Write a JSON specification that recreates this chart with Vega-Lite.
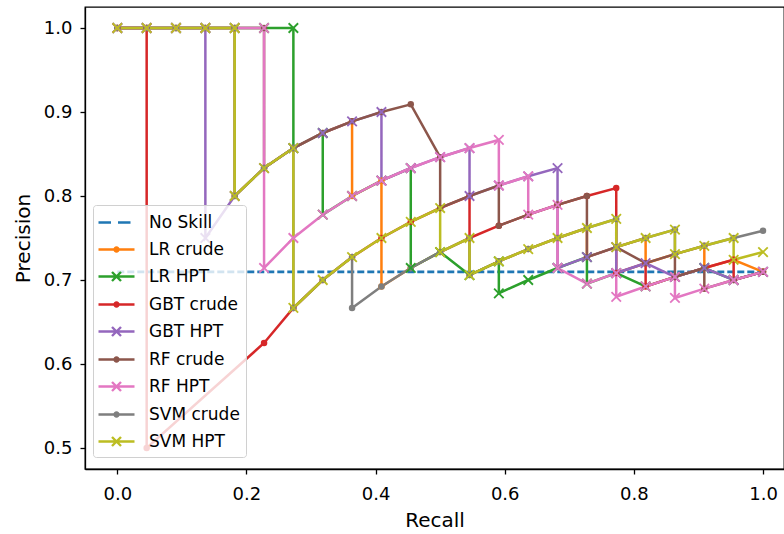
{
  "$schema": "https://vega.github.io/schema/vega-lite/v6.json",
  "width": 699,
  "height": 462,
  "autosize": {"type": "none"},
  "padding": {"left": 85, "top": 7, "right": 0, "bottom": 65},
  "background": "white",
  "config": {
    "font": "DejaVu Sans",
    "view": {"stroke": "#000000", "strokeWidth": 1.3},
    "axis": {
      "grid": false,
      "domainColor": "#000000",
      "domainWidth": 1.3,
      "tickColor": "#000000",
      "tickSize": 5,
      "tickWidth": 1.3,
      "labelFont": "DejaVu Sans",
      "labelFontSize": 18,
      "labelColor": "#000000",
      "titleFont": "DejaVu Sans",
      "titleFontSize": 20,
      "titleFontWeight": "normal",
      "titleColor": "#000000"
    },
    "legend": {
      "orient": "none",
      "legendX": 8,
      "legendY": 198,
      "padding": 6,
      "rowPadding": 7,
      "labelFont": "DejaVu Sans",
      "labelFontSize": 17,
      "labelColor": "#000000",
      "labelOffset": 21,
      "symbolOffset": 6,
      "symbolSize": 400,
      "symbolStrokeWidth": 2,
      "fillColor": "rgba(255,255,255,0.8)",
      "strokeColor": "#d0d0d0",
      "cornerRadius": 3
    }
  },
  "data": {
    "values": [
      {"s": "No Skill", "i": 0, "r": 0, "p": 0.7097},
      {"s": "No Skill", "i": 1, "r": 1, "p": 0.7097},

      {"s": "LR crude", "i": 0, "r": 0, "p": 1},
      {"s": "LR crude", "i": 1, "r": 0.0455, "p": 1},
      {"s": "LR crude", "i": 2, "r": 0.0909, "p": 1},
      {"s": "LR crude", "i": 3, "r": 0.1364, "p": 1},
      {"s": "LR crude", "i": 4, "r": 0.1818, "p": 1},
      {"s": "LR crude", "i": 5, "r": 0.1818, "p": 0.8},
      {"s": "LR crude", "i": 6, "r": 0.2273, "p": 0.8333},
      {"s": "LR crude", "i": 7, "r": 0.2727, "p": 0.8571},
      {"s": "LR crude", "i": 8, "r": 0.3182, "p": 0.875},
      {"s": "LR crude", "i": 9, "r": 0.3636, "p": 0.8889},
      {"s": "LR crude", "i": 10, "r": 0.3636, "p": 0.8},
      {"s": "LR crude", "i": 11, "r": 0.4091, "p": 0.8182},
      {"s": "LR crude", "i": 12, "r": 0.4091, "p": 0.6923},
      {"s": "LR crude", "i": 13, "r": 0.4545, "p": 0.7143},
      {"s": "LR crude", "i": 14, "r": 0.5, "p": 0.7333},
      {"s": "LR crude", "i": 15, "r": 0.5455, "p": 0.75},
      {"s": "LR crude", "i": 16, "r": 0.5455, "p": 0.7059},
      {"s": "LR crude", "i": 17, "r": 0.5909, "p": 0.7222},
      {"s": "LR crude", "i": 18, "r": 0.6364, "p": 0.7368},
      {"s": "LR crude", "i": 19, "r": 0.6818, "p": 0.75},
      {"s": "LR crude", "i": 20, "r": 0.7273, "p": 0.7619},
      {"s": "LR crude", "i": 21, "r": 0.7273, "p": 0.7273},
      {"s": "LR crude", "i": 22, "r": 0.7727, "p": 0.7391},
      {"s": "LR crude", "i": 23, "r": 0.8182, "p": 0.75},
      {"s": "LR crude", "i": 24, "r": 0.8182, "p": 0.72},
      {"s": "LR crude", "i": 25, "r": 0.8636, "p": 0.7308},
      {"s": "LR crude", "i": 26, "r": 0.9091, "p": 0.7407},
      {"s": "LR crude", "i": 27, "r": 0.9091, "p": 0.7143},
      {"s": "LR crude", "i": 28, "r": 0.9545, "p": 0.7241},
      {"s": "LR crude", "i": 29, "r": 1, "p": 0.7097},

      {"s": "LR HPT", "i": 0, "r": 0, "p": 1},
      {"s": "LR HPT", "i": 1, "r": 0.0455, "p": 1},
      {"s": "LR HPT", "i": 2, "r": 0.0909, "p": 1},
      {"s": "LR HPT", "i": 3, "r": 0.1364, "p": 1},
      {"s": "LR HPT", "i": 4, "r": 0.1818, "p": 1},
      {"s": "LR HPT", "i": 5, "r": 0.2273, "p": 1},
      {"s": "LR HPT", "i": 6, "r": 0.2727, "p": 1},
      {"s": "LR HPT", "i": 7, "r": 0.2727, "p": 0.8571},
      {"s": "LR HPT", "i": 8, "r": 0.3182, "p": 0.875},
      {"s": "LR HPT", "i": 9, "r": 0.3182, "p": 0.7778},
      {"s": "LR HPT", "i": 10, "r": 0.3636, "p": 0.8},
      {"s": "LR HPT", "i": 11, "r": 0.4091, "p": 0.8182},
      {"s": "LR HPT", "i": 12, "r": 0.4545, "p": 0.8333},
      {"s": "LR HPT", "i": 13, "r": 0.4545, "p": 0.7143},
      {"s": "LR HPT", "i": 14, "r": 0.5, "p": 0.7333},
      {"s": "LR HPT", "i": 15, "r": 0.5455, "p": 0.7059},
      {"s": "LR HPT", "i": 16, "r": 0.5909, "p": 0.7222},
      {"s": "LR HPT", "i": 17, "r": 0.5909, "p": 0.6842},
      {"s": "LR HPT", "i": 18, "r": 0.6364, "p": 0.7},
      {"s": "LR HPT", "i": 19, "r": 0.6818, "p": 0.7143},
      {"s": "LR HPT", "i": 20, "r": 0.7273, "p": 0.7273},
      {"s": "LR HPT", "i": 21, "r": 0.7273, "p": 0.6957},
      {"s": "LR HPT", "i": 22, "r": 0.7727, "p": 0.7083},
      {"s": "LR HPT", "i": 23, "r": 0.8182, "p": 0.6923},
      {"s": "LR HPT", "i": 24, "r": 0.8636, "p": 0.7037},
      {"s": "LR HPT", "i": 25, "r": 0.9091, "p": 0.7143},
      {"s": "LR HPT", "i": 26, "r": 0.9545, "p": 0.7},
      {"s": "LR HPT", "i": 27, "r": 1, "p": 0.7097},

      {"s": "GBT crude", "i": 0, "r": 0, "p": 1},
      {"s": "GBT crude", "i": 1, "r": 0.0455, "p": 1},
      {"s": "GBT crude", "i": 2, "r": 0.0455, "p": 0.5},
      {"s": "GBT crude", "i": 3, "r": 0.2273, "p": 0.625},
      {"s": "GBT crude", "i": 4, "r": 0.2727, "p": 0.6667},
      {"s": "GBT crude", "i": 5, "r": 0.3182, "p": 0.7},
      {"s": "GBT crude", "i": 6, "r": 0.3636, "p": 0.7273},
      {"s": "GBT crude", "i": 7, "r": 0.4091, "p": 0.75},
      {"s": "GBT crude", "i": 8, "r": 0.4545, "p": 0.7692},
      {"s": "GBT crude", "i": 9, "r": 0.5, "p": 0.7857},
      {"s": "GBT crude", "i": 10, "r": 0.5455, "p": 0.8},
      {"s": "GBT crude", "i": 11, "r": 0.5455, "p": 0.75},
      {"s": "GBT crude", "i": 12, "r": 0.5909, "p": 0.7647},
      {"s": "GBT crude", "i": 13, "r": 0.6364, "p": 0.7778},
      {"s": "GBT crude", "i": 14, "r": 0.6818, "p": 0.7895},
      {"s": "GBT crude", "i": 15, "r": 0.7273, "p": 0.8},
      {"s": "GBT crude", "i": 16, "r": 0.7727, "p": 0.8095},
      {"s": "GBT crude", "i": 17, "r": 0.7727, "p": 0.7083},
      {"s": "GBT crude", "i": 18, "r": 0.8182, "p": 0.72},
      {"s": "GBT crude", "i": 19, "r": 0.8182, "p": 0.6923},
      {"s": "GBT crude", "i": 20, "r": 0.8636, "p": 0.7037},
      {"s": "GBT crude", "i": 21, "r": 0.9091, "p": 0.7143},
      {"s": "GBT crude", "i": 22, "r": 0.9545, "p": 0.7241},
      {"s": "GBT crude", "i": 23, "r": 0.9545, "p": 0.7},
      {"s": "GBT crude", "i": 24, "r": 1, "p": 0.7097},

      {"s": "GBT HPT", "i": 0, "r": 0, "p": 1},
      {"s": "GBT HPT", "i": 1, "r": 0.0455, "p": 1},
      {"s": "GBT HPT", "i": 2, "r": 0.0909, "p": 1},
      {"s": "GBT HPT", "i": 3, "r": 0.1364, "p": 1},
      {"s": "GBT HPT", "i": 4, "r": 0.1364, "p": 0.75},
      {"s": "GBT HPT", "i": 5, "r": 0.1818, "p": 0.8},
      {"s": "GBT HPT", "i": 6, "r": 0.2273, "p": 0.8333},
      {"s": "GBT HPT", "i": 7, "r": 0.2727, "p": 0.8571},
      {"s": "GBT HPT", "i": 8, "r": 0.3182, "p": 0.875},
      {"s": "GBT HPT", "i": 9, "r": 0.3636, "p": 0.8889},
      {"s": "GBT HPT", "i": 10, "r": 0.4091, "p": 0.9},
      {"s": "GBT HPT", "i": 11, "r": 0.4091, "p": 0.8182},
      {"s": "GBT HPT", "i": 12, "r": 0.4545, "p": 0.8333},
      {"s": "GBT HPT", "i": 13, "r": 0.5, "p": 0.8462},
      {"s": "GBT HPT", "i": 14, "r": 0.5455, "p": 0.8571},
      {"s": "GBT HPT", "i": 15, "r": 0.5455, "p": 0.8},
      {"s": "GBT HPT", "i": 16, "r": 0.5909, "p": 0.8125},
      {"s": "GBT HPT", "i": 17, "r": 0.6364, "p": 0.8235},
      {"s": "GBT HPT", "i": 18, "r": 0.6818, "p": 0.8333},
      {"s": "GBT HPT", "i": 19, "r": 0.6818, "p": 0.7143},
      {"s": "GBT HPT", "i": 20, "r": 0.7273, "p": 0.7273},
      {"s": "GBT HPT", "i": 21, "r": 0.7727, "p": 0.7391},
      {"s": "GBT HPT", "i": 22, "r": 0.7727, "p": 0.7083},
      {"s": "GBT HPT", "i": 23, "r": 0.8182, "p": 0.72},
      {"s": "GBT HPT", "i": 24, "r": 0.8636, "p": 0.7037},
      {"s": "GBT HPT", "i": 25, "r": 0.9091, "p": 0.7143},
      {"s": "GBT HPT", "i": 26, "r": 0.9545, "p": 0.7},
      {"s": "GBT HPT", "i": 27, "r": 1, "p": 0.7097},

      {"s": "RF crude", "i": 0, "r": 0, "p": 1},
      {"s": "RF crude", "i": 1, "r": 0.0455, "p": 1},
      {"s": "RF crude", "i": 2, "r": 0.0909, "p": 1},
      {"s": "RF crude", "i": 3, "r": 0.1364, "p": 1},
      {"s": "RF crude", "i": 4, "r": 0.1818, "p": 1},
      {"s": "RF crude", "i": 5, "r": 0.2273, "p": 1},
      {"s": "RF crude", "i": 6, "r": 0.2273, "p": 0.8333},
      {"s": "RF crude", "i": 7, "r": 0.2727, "p": 0.8571},
      {"s": "RF crude", "i": 8, "r": 0.3182, "p": 0.875},
      {"s": "RF crude", "i": 9, "r": 0.3636, "p": 0.8889},
      {"s": "RF crude", "i": 10, "r": 0.4091, "p": 0.9},
      {"s": "RF crude", "i": 11, "r": 0.4545, "p": 0.9091},
      {"s": "RF crude", "i": 12, "r": 0.5, "p": 0.8462},
      {"s": "RF crude", "i": 13, "r": 0.5, "p": 0.7857},
      {"s": "RF crude", "i": 14, "r": 0.5455, "p": 0.8},
      {"s": "RF crude", "i": 15, "r": 0.5909, "p": 0.8125},
      {"s": "RF crude", "i": 16, "r": 0.5909, "p": 0.7647},
      {"s": "RF crude", "i": 17, "r": 0.6364, "p": 0.7778},
      {"s": "RF crude", "i": 18, "r": 0.6818, "p": 0.7895},
      {"s": "RF crude", "i": 19, "r": 0.7273, "p": 0.8},
      {"s": "RF crude", "i": 20, "r": 0.7273, "p": 0.7273},
      {"s": "RF crude", "i": 21, "r": 0.7727, "p": 0.7391},
      {"s": "RF crude", "i": 22, "r": 0.8182, "p": 0.72},
      {"s": "RF crude", "i": 23, "r": 0.8636, "p": 0.7308},
      {"s": "RF crude", "i": 24, "r": 0.8636, "p": 0.7037},
      {"s": "RF crude", "i": 25, "r": 0.9091, "p": 0.7143},
      {"s": "RF crude", "i": 26, "r": 0.9091, "p": 0.6897},
      {"s": "RF crude", "i": 27, "r": 0.9545, "p": 0.7},
      {"s": "RF crude", "i": 28, "r": 1, "p": 0.7097},

      {"s": "RF HPT", "i": 0, "r": 0, "p": 1},
      {"s": "RF HPT", "i": 1, "r": 0.0455, "p": 1},
      {"s": "RF HPT", "i": 2, "r": 0.0909, "p": 1},
      {"s": "RF HPT", "i": 3, "r": 0.1364, "p": 1},
      {"s": "RF HPT", "i": 4, "r": 0.1818, "p": 1},
      {"s": "RF HPT", "i": 5, "r": 0.2273, "p": 1},
      {"s": "RF HPT", "i": 6, "r": 0.2273, "p": 0.7143},
      {"s": "RF HPT", "i": 7, "r": 0.2727, "p": 0.75},
      {"s": "RF HPT", "i": 8, "r": 0.3182, "p": 0.7778},
      {"s": "RF HPT", "i": 9, "r": 0.3636, "p": 0.8},
      {"s": "RF HPT", "i": 10, "r": 0.4091, "p": 0.8182},
      {"s": "RF HPT", "i": 11, "r": 0.4545, "p": 0.8333},
      {"s": "RF HPT", "i": 12, "r": 0.5, "p": 0.8462},
      {"s": "RF HPT", "i": 13, "r": 0.5455, "p": 0.8571},
      {"s": "RF HPT", "i": 14, "r": 0.5909, "p": 0.8667},
      {"s": "RF HPT", "i": 15, "r": 0.5909, "p": 0.8125},
      {"s": "RF HPT", "i": 16, "r": 0.6364, "p": 0.8235},
      {"s": "RF HPT", "i": 17, "r": 0.6364, "p": 0.7778},
      {"s": "RF HPT", "i": 18, "r": 0.6818, "p": 0.7895},
      {"s": "RF HPT", "i": 19, "r": 0.6818, "p": 0.7143},
      {"s": "RF HPT", "i": 20, "r": 0.7273, "p": 0.6957},
      {"s": "RF HPT", "i": 21, "r": 0.7727, "p": 0.7083},
      {"s": "RF HPT", "i": 22, "r": 0.7727, "p": 0.68},
      {"s": "RF HPT", "i": 23, "r": 0.8182, "p": 0.6923},
      {"s": "RF HPT", "i": 24, "r": 0.8636, "p": 0.7037},
      {"s": "RF HPT", "i": 25, "r": 0.8636, "p": 0.6786},
      {"s": "RF HPT", "i": 26, "r": 0.9091, "p": 0.6897},
      {"s": "RF HPT", "i": 27, "r": 0.9545, "p": 0.7},
      {"s": "RF HPT", "i": 28, "r": 1, "p": 0.7097},

      {"s": "SVM crude", "i": 0, "r": 0, "p": 1},
      {"s": "SVM crude", "i": 1, "r": 0.0455, "p": 1},
      {"s": "SVM crude", "i": 2, "r": 0.0909, "p": 1},
      {"s": "SVM crude", "i": 3, "r": 0.1364, "p": 1},
      {"s": "SVM crude", "i": 4, "r": 0.1818, "p": 1},
      {"s": "SVM crude", "i": 5, "r": 0.1818, "p": 0.8},
      {"s": "SVM crude", "i": 6, "r": 0.2273, "p": 0.8333},
      {"s": "SVM crude", "i": 7, "r": 0.2727, "p": 0.8571},
      {"s": "SVM crude", "i": 8, "r": 0.2727, "p": 0.6667},
      {"s": "SVM crude", "i": 9, "r": 0.3182, "p": 0.7},
      {"s": "SVM crude", "i": 10, "r": 0.3636, "p": 0.7273},
      {"s": "SVM crude", "i": 11, "r": 0.3636, "p": 0.6667},
      {"s": "SVM crude", "i": 12, "r": 0.4091, "p": 0.6923},
      {"s": "SVM crude", "i": 13, "r": 0.4545, "p": 0.7143},
      {"s": "SVM crude", "i": 14, "r": 0.5, "p": 0.7333},
      {"s": "SVM crude", "i": 15, "r": 0.5455, "p": 0.75},
      {"s": "SVM crude", "i": 16, "r": 0.5455, "p": 0.7059},
      {"s": "SVM crude", "i": 17, "r": 0.5909, "p": 0.7222},
      {"s": "SVM crude", "i": 18, "r": 0.6364, "p": 0.7368},
      {"s": "SVM crude", "i": 19, "r": 0.6818, "p": 0.75},
      {"s": "SVM crude", "i": 20, "r": 0.7273, "p": 0.7619},
      {"s": "SVM crude", "i": 21, "r": 0.7727, "p": 0.7727},
      {"s": "SVM crude", "i": 22, "r": 0.7727, "p": 0.7391},
      {"s": "SVM crude", "i": 23, "r": 0.8182, "p": 0.75},
      {"s": "SVM crude", "i": 24, "r": 0.8636, "p": 0.76},
      {"s": "SVM crude", "i": 25, "r": 0.8636, "p": 0.7308},
      {"s": "SVM crude", "i": 26, "r": 0.9091, "p": 0.7407},
      {"s": "SVM crude", "i": 27, "r": 0.9545, "p": 0.75},
      {"s": "SVM crude", "i": 28, "r": 1, "p": 0.7586},

      {"s": "SVM HPT", "i": 0, "r": 0, "p": 1},
      {"s": "SVM HPT", "i": 1, "r": 0.0455, "p": 1},
      {"s": "SVM HPT", "i": 2, "r": 0.0909, "p": 1},
      {"s": "SVM HPT", "i": 3, "r": 0.1364, "p": 1},
      {"s": "SVM HPT", "i": 4, "r": 0.1818, "p": 1},
      {"s": "SVM HPT", "i": 5, "r": 0.1818, "p": 0.8},
      {"s": "SVM HPT", "i": 6, "r": 0.2273, "p": 0.8333},
      {"s": "SVM HPT", "i": 7, "r": 0.2727, "p": 0.8571},
      {"s": "SVM HPT", "i": 8, "r": 0.2727, "p": 0.6667},
      {"s": "SVM HPT", "i": 9, "r": 0.3182, "p": 0.7},
      {"s": "SVM HPT", "i": 10, "r": 0.3636, "p": 0.7273},
      {"s": "SVM HPT", "i": 11, "r": 0.4091, "p": 0.75},
      {"s": "SVM HPT", "i": 12, "r": 0.4545, "p": 0.7692},
      {"s": "SVM HPT", "i": 13, "r": 0.5, "p": 0.7857},
      {"s": "SVM HPT", "i": 14, "r": 0.5, "p": 0.7333},
      {"s": "SVM HPT", "i": 15, "r": 0.5455, "p": 0.75},
      {"s": "SVM HPT", "i": 16, "r": 0.5455, "p": 0.7059},
      {"s": "SVM HPT", "i": 17, "r": 0.5909, "p": 0.7222},
      {"s": "SVM HPT", "i": 18, "r": 0.6364, "p": 0.7368},
      {"s": "SVM HPT", "i": 19, "r": 0.6818, "p": 0.75},
      {"s": "SVM HPT", "i": 20, "r": 0.7273, "p": 0.7619},
      {"s": "SVM HPT", "i": 21, "r": 0.7727, "p": 0.7727},
      {"s": "SVM HPT", "i": 22, "r": 0.7727, "p": 0.7391},
      {"s": "SVM HPT", "i": 23, "r": 0.8182, "p": 0.75},
      {"s": "SVM HPT", "i": 24, "r": 0.8636, "p": 0.76},
      {"s": "SVM HPT", "i": 25, "r": 0.8636, "p": 0.7308},
      {"s": "SVM HPT", "i": 26, "r": 0.9091, "p": 0.7407},
      {"s": "SVM HPT", "i": 27, "r": 0.9545, "p": 0.75},
      {"s": "SVM HPT", "i": 28, "r": 0.9545, "p": 0.7241},
      {"s": "SVM HPT", "i": 29, "r": 1, "p": 0.7333}
    ]
  },
  "encoding": {
    "x": {
      "field": "r",
      "type": "quantitative",
      "scale": {"domain": [-0.05, 1.0325], "nice": false, "zero": false},
      "axis": {"values": [0, 0.2, 0.4, 0.6, 0.8, 1.0], "format": ".1f", "title": "Recall", "labelPadding": 11, "titlePadding": 7}
    },
    "y": {
      "field": "p",
      "type": "quantitative",
      "scale": {"domain": [0.475, 1.025], "nice": false, "zero": false},
      "axis": {"values": [0.5, 0.6, 0.7, 0.8, 0.9, 1.0], "format": ".1f", "title": "Precision", "labelPadding": 8, "titlePadding": 10}
    }
  },
  "layer": [
    {
      "transform": [{"filter": "datum.s == 'No Skill'"}],
      "mark": {"type": "line", "strokeDash": [7, 3], "strokeWidth": 2.6},
      "encoding": {
        "color": {"field": "s", "type": "nominal"},
        "order": {"field": "i", "type": "quantitative"}
      }
    },
    {
      "transform": [{"filter": "datum.s != 'No Skill'"}],
      "mark": {"type": "line", "strokeWidth": 2.5},
      "encoding": {
        "color": {
          "field": "s",
          "type": "nominal",
          "scale": {
            "domain": ["No Skill", "LR crude", "LR HPT", "GBT crude", "GBT HPT", "RF crude", "RF HPT", "SVM crude", "SVM HPT"],
            "range": ["#1f77b4", "#ff7f0e", "#2ca02c", "#d62728", "#9467bd", "#8c564b", "#e377c2", "#7f7f7f", "#bcbd22"]
          },
          "legend": {
            "title": null,
            "symbolType": "M-1.8,0L1.8,0",
            "encode": {
              "symbols": {
                "update": {
                  "shape": {"signal": "datum.value === 'No Skill' ? 'M-1.8,0L-0.55,0M0.15,0L1.4,0' : (indexof(datum.value, 'crude') >= 0 ? 'M-1.8,0L1.8,0M0.2,0A0.2,0.2 0 1,1 -0.2,0A0.2,0.2 0 1,1 0.2,0' : 'M-1.8,0L1.8,0M-0.45,-0.45L0.45,0.45M-0.45,0.45L0.45,-0.45')"},
                  "stroke": {"scale": "color", "field": "value"},
                  "fill": {"value": "transparent"},
                  "strokeWidth": {"value": 2.4},
                  "strokeDash": {"value": []},
                  "opacity": {"value": 1}
                }
              }
            }
          }
        },
        "order": {"field": "i", "type": "quantitative"}
      }
    },
    {
      "transform": [{"filter": "indexof(datum.s, 'crude') >= 0"}],
      "mark": {"type": "point", "shape": "circle", "filled": true, "size": 42, "opacity": 1},
      "encoding": {
        "color": {"field": "s", "type": "nominal"}
      }
    },
    {
      "transform": [{"filter": "indexof(datum.s, 'HPT') >= 0"}],
      "mark": {"type": "point", "shape": "M-1,-1L1,1M-1,1L1,-1", "filled": false, "size": 90, "strokeWidth": 1.8, "opacity": 1},
      "encoding": {
        "color": {"field": "s", "type": "nominal"}
      }
    }
  ]
}
